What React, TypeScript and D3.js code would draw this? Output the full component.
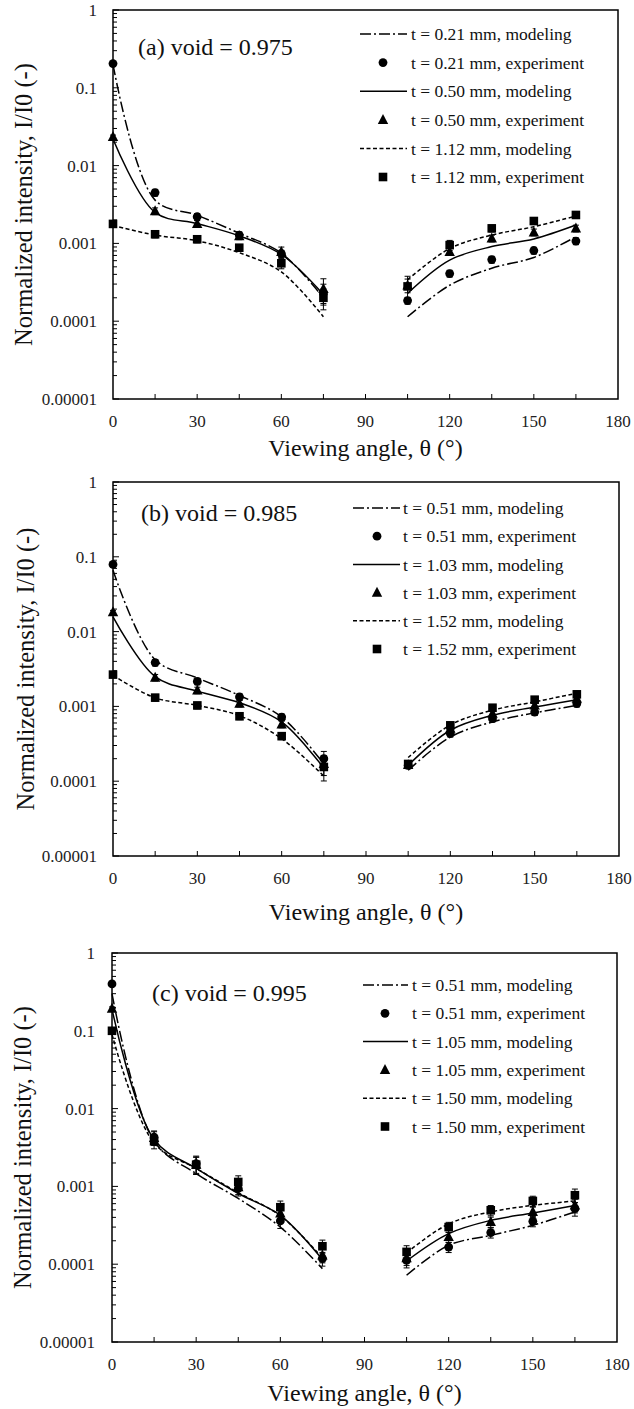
import React from 'react';
import * as d3 from 'd3';

// ---------- shared categories / ticks ----------
const angles = [0, 15, 30, 45, 60, 75, 105, 120, 135, 150, 165];
const xTickValues = [0, 30, 60, 90, 120, 150, 180];
const xInnerTicks = [15, 30, 45, 60, 75, 90, 105, 120, 135, 150, 165];
const yTickValues = [1, 0.1, 0.01, 0.001, 0.0001, 0.00001];
const yTickLabels = ['1', '0.1', '0.01', '0.001', '0.0001', '0.00001'];
const xTitle = 'Viewing angle, θ (°)';
const yTitle = 'Normalized intensity, I/I0 (-)';

const panelTitles = ['(a) void = 0.975', '(b) void = 0.985', '(c) void = 0.995'];
const panelThickness = [
  ['0.21', '0.50', '1.12'],
  ['0.51', '1.03', '1.52'],
  ['0.51', '1.05', '1.50'],
];

// ---------- panel (a) ----------
const a1Model = [0.2, 0.0036, 0.0023, 0.00135, 0.00075, 0.0002, 0.000114, 0.00029, 0.00048, 0.00066, 0.00122];
const a1Exp = [0.205, 0.0045, 0.0022, 0.00128, 0.00074, 0.00023, 0.000184, 0.00041, 0.00062, 0.00081, 0.00107];
const a1Err = [0.05, 0.1, 0.1, 0.1, 0.1, 0.3, 0.1, 0.1, 0.1, 0.1, 0.1];
const a2Model = [0.022, 0.0025, 0.0018, 0.00125, 0.00072, 0.00022, 0.000228, 0.00061, 0.00091, 0.00114, 0.00172];
const a2Exp = [0.0235, 0.0026, 0.00178, 0.00124, 0.00078, 0.00026, 0.00029, 0.00078, 0.00116, 0.00139, 0.00156];
const a2Err = [0.05, 0.1, 0.1, 0.1, 0.15, 0.35, 0.2, 0.1, 0.1, 0.1, 0.1];
const a3Model = [0.0017, 0.00128, 0.00108, 0.00076, 0.00043, 0.000114, 0.00034, 0.00086, 0.00128, 0.00164, 0.00225];
const a3Exp = [0.00178, 0.00131, 0.00113, 0.00088, 0.000555, 0.0002, 0.00028, 0.00095, 0.00156, 0.00194, 0.00232];
const a3Err = [0.05, 0.1, 0.1, 0.1, 0.15, 0.3, 0.35, 0.15, 0.1, 0.1, 0.1];

// ---------- panel (b) ----------
const b1Model = [0.066, 0.0042, 0.0024, 0.0014, 0.00072, 0.00017, 0.00014, 0.00039, 0.00062, 0.00082, 0.00103];
const b1Exp = [0.079, 0.00385, 0.00216, 0.00134, 0.00072, 0.0002, 0.000163, 0.000433, 0.000686, 0.00084, 0.00109];
const b1Err = [0.05, 0.1, 0.1, 0.1, 0.1, 0.25, 0.1, 0.1, 0.1, 0.1, 0.1];
const b2Model = [0.0157, 0.0025, 0.0016, 0.00112, 0.00062, 0.00015, 0.000163, 0.00048, 0.00076, 0.00098, 0.00123];
const b2Exp = [0.0183, 0.00243, 0.00164, 0.00109, 0.000575, 0.00017, 0.000165, 0.000505, 0.0008, 0.00103, 0.00127];
const b2Err = [0.05, 0.1, 0.1, 0.1, 0.1, 0.3, 0.1, 0.1, 0.1, 0.1, 0.1];
const b3Model = [0.0026, 0.0013, 0.00103, 0.00075, 0.00037, 0.000117, 0.000207, 0.000565, 0.00089, 0.00115, 0.0015];
const b3Exp = [0.00266, 0.00131, 0.00103, 0.000738, 0.0004, 0.000155, 0.00017, 0.000558, 0.00096, 0.00123, 0.00145];
const b3Err = [0.05, 0.1, 0.1, 0.1, 0.1, 0.35, 0.1, 0.1, 0.1, 0.1, 0.1];

// ---------- panel (c) ----------
const c1Model = [0.3, 0.0038, 0.00146, 0.0007, 0.0003, 0.0000877, 0.000072, 0.000175, 0.000235, 0.000316, 0.00047];
const c1Exp = [0.4, 0.0043, 0.00196, 0.00094, 0.00036, 0.000118, 0.000112, 0.000166, 0.000255, 0.000356, 0.000518];
const c1Err = [0.05, 0.2, 0.25, 0.2, 0.2, 0.2, 0.2, 0.15, 0.15, 0.15, 0.2];
const c2Model = [0.19, 0.004, 0.0017, 0.00081, 0.000425, 0.000115, 0.00011, 0.000247, 0.000366, 0.000455, 0.00057];
const c2Exp = [0.193, 0.0042, 0.0019, 0.00098, 0.00045, 0.00013, 0.00012, 0.000224, 0.00035, 0.00047, 0.00057];
const c2Err = [0.05, 0.2, 0.25, 0.2, 0.2, 0.2, 0.2, 0.15, 0.15, 0.15, 0.2];
const c3Model = [0.09, 0.0036, 0.0017, 0.00083, 0.00042, 0.00012, 0.00014, 0.00033, 0.00047, 0.00057, 0.00065];
const c3Exp = [0.1, 0.0038, 0.0019, 0.00114, 0.00054, 0.00017, 0.000144, 0.0003, 0.000493, 0.00065, 0.00077];
const c3Err = [0.05, 0.2, 0.25, 0.2, 0.2, 0.2, 0.2, 0.15, 0.15, 0.15, 0.2];

const panelModels = [
  [a1Model, a2Model, a3Model],
  [b1Model, b2Model, b3Model],
  [c1Model, c2Model, c3Model],
];
const panelExps = [
  [a1Exp, a2Exp, a3Exp],
  [b1Exp, b2Exp, b3Exp],
  [c1Exp, c2Exp, c3Exp],
];
const panelErrs = [
  [a1Err, a2Err, a3Err],
  [b1Err, b2Err, b3Err],
  [c1Err, c2Err, c3Err],
];

// ---------- layout / styles ----------
const W = 634;
const H = 1409;
const FONT = '"Liberation Serif", "Times New Roman", Times, serif';
const dashes = ['11,3,2,3', null, '4,2.5'];
const markerKinds = ['circle', 'triangle', 'square'];

const geoms = [
  { left: 113, right: 618, top: 10, bottom: 399, yTitleX: 23, tickRight: 97, titleX: 138, titleY: 47, legX1: 360, legX2: 407, legM: 383, legT: 411, leg0: 34, legGap: 28.6, xLabY: 421, xTitleY: 448 },
  { left: 113, right: 619, top: 482, bottom: 856, yTitleX: 25, tickRight: 97, titleX: 141, titleY: 513, legX1: 353, legX2: 400, legM: 377, legT: 403, leg0: 508, legGap: 28.2, xLabY: 878, xTitleY: 912 },
  { left: 112, right: 617, top: 953, bottom: 1342, yTitleX: 22, tickRight: 95, titleX: 152, titleY: 993, legX1: 363, legX2: 408, legM: 385, legT: 412, leg0: 985, legGap: 28.3, xLabY: 1364, xTitleY: 1393 },
];

function Marker({ kind, x, y }: { kind: string; x: number; y: number }) {
  if (kind === 'circle') return <circle cx={x} cy={y} r={4.4} fill="#000" />;
  if (kind === 'square') return <rect x={x - 4.3} y={y - 4.3} width={8.6} height={8.6} fill="#000" />;
  const s = 5.2;
  return <path d={`M${x},${y - s - 0.6}L${x + s},${y + s * 0.8}L${x - s},${y + s * 0.8}Z`} fill="#000" />;
}

function Panel({ idx }: { idx: number }) {
  const g = geoms[idx];
  const x = d3.scaleLinear().domain([0, 180]).range([g.left, g.right]);
  const y = d3.scaleLog().domain([0.00001, 1]).range([g.bottom, g.top]);
  const line = d3
    .line<[number, number]>()
    .x((d) => x(d[0]))
    .y((d) => y(d[1]))
    .curve(d3.curveCatmullRom.alpha(0.5));

  const minorY: number[] = [];
  for (let e = -5; e < 0; e++) {
    for (let k = 2; k <= 9; k++) minorY.push(k * Math.pow(10, e));
  }

  const models = panelModels[idx];
  const exps = panelExps[idx];
  const errs = panelErrs[idx];
  const thick = panelThickness[idx];

  const pairs = (arr: number[]) => angles.map((a, i) => [a, arr[i]] as [number, number]);

  return (
    <g>
      {/* model curves */}
      {models.map((m, si) => {
        const p = pairs(m);
        return (
          <g key={'m' + si}>
            {[p.slice(0, 6), p.slice(6)].map((seg, k) => (
              <path
                key={k}
                d={line(seg) || ''}
                fill="none"
                stroke="#000"
                strokeWidth={1.5}
                strokeDasharray={dashes[si] || undefined}
              />
            ))}
          </g>
        );
      })}
      {/* error bars */}
      {exps.map((ev, si) => (
        <g key={'e' + si}>
          {angles.map((a, i) => {
            const v = ev[i];
            const e = errs[si][i];
            const y1 = y(v * (1 + e));
            const y2 = y(v * (1 - e));
            const xx = x(a);
            return (
              <g key={i} stroke="#000" strokeWidth={1}>
                <line x1={xx} x2={xx} y1={y1} y2={y2} />
                <line x1={xx - 3} x2={xx + 3} y1={y1} y2={y1} />
                <line x1={xx - 3} x2={xx + 3} y1={y2} y2={y2} />
              </g>
            );
          })}
        </g>
      ))}
      {/* markers */}
      {exps.map((ev, si) => (
        <g key={'p' + si}>
          {angles.map((a, i) => (
            <Marker key={i} kind={markerKinds[si]} x={x(a)} y={y(ev[i])} />
          ))}
        </g>
      ))}
      {/* frame */}
      <rect x={g.left} y={g.top} width={g.right - g.left} height={g.bottom - g.top} fill="none" stroke="#000" strokeWidth={1.5} />
      {/* y ticks */}
      {yTickValues.map((v) => (
        <line key={'yt' + v} x1={g.left} x2={g.left + 6} y1={y(v)} y2={y(v)} stroke="#000" strokeWidth={1} />
      ))}
      {minorY.map((v) => (
        <line key={'ym' + v} x1={g.left} x2={g.left + 4} y1={y(v)} y2={y(v)} stroke="#000" strokeWidth={1} />
      ))}
      {/* x ticks */}
      {xInnerTicks.map((v) => (
        <line key={'xt' + v} x1={x(v)} x2={x(v)} y1={g.bottom} y2={g.bottom - 5} stroke="#000" strokeWidth={1} />
      ))}
      {/* tick labels */}
      {yTickValues.map((v, i) => (
        <text key={'yl' + v} x={g.tickRight} y={y(v)} dy="0.35em" textAnchor="end" fontSize={17} fontFamily={FONT} fill="#222">
          {yTickLabels[i]}
        </text>
      ))}
      {xTickValues.map((v) => (
        <text key={'xl' + v} x={x(v)} y={g.xLabY} dy="0.35em" textAnchor="middle" fontSize={17} fontFamily={FONT} fill="#222">
          {v}
        </text>
      ))}
      {/* axis titles */}
      <text x={(g.left + g.right) / 2} y={g.xTitleY} dy="0.35em" textAnchor="middle" fontSize={24} fontFamily={FONT} fill="#111">
        {xTitle}
      </text>
      <text
        transform={`translate(${g.yTitleX},${(g.top + g.bottom) / 2}) rotate(-90)`}
        dy="0.35em"
        textAnchor="middle"
        fontSize={24.5}
        fontFamily={FONT}
        fill="#111"
      >
        {yTitle}
      </text>
      {/* panel label */}
      <text x={g.titleX} y={g.titleY} dy="0.35em" fontSize={24} fontFamily={FONT} fill="#111">
        {panelTitles[idx]}
      </text>
      {/* legend */}
      {thick.map((t, si) => {
        const ym = g.leg0 + g.legGap * (si * 2);
        const ye = g.leg0 + g.legGap * (si * 2 + 1);
        return (
          <g key={'lg' + si}>
            <line x1={g.legX1} x2={g.legX2} y1={ym} y2={ym} stroke="#000" strokeWidth={1.5} strokeDasharray={dashes[si] || undefined} />
            <text x={g.legT} y={ym} dy="0.35em" fontSize={17.5} fontFamily={FONT} fill="#111">
              {`t = ${t} mm, modeling`}
            </text>
            <Marker kind={markerKinds[si]} x={g.legM} y={ye} />
            <text x={g.legT} y={ye} dy="0.35em" fontSize={17.5} fontFamily={FONT} fill="#111">
              {`t = ${t} mm, experiment`}
            </text>
          </g>
        );
      })}
    </g>
  );
}

export default function App() {
  return (
    <svg
      width={W}
      height={H}
      viewBox={`0 0 ${W} ${H}`}
      style={{ position: 'absolute', left: 0, top: 0, background: '#fff' }}
    >
      <rect x={0} y={0} width={W} height={H} fill="#fff" />
      {[0, 1, 2].map((i) => (
        <Panel key={i} idx={i} />
      ))}
    </svg>
  );
}
